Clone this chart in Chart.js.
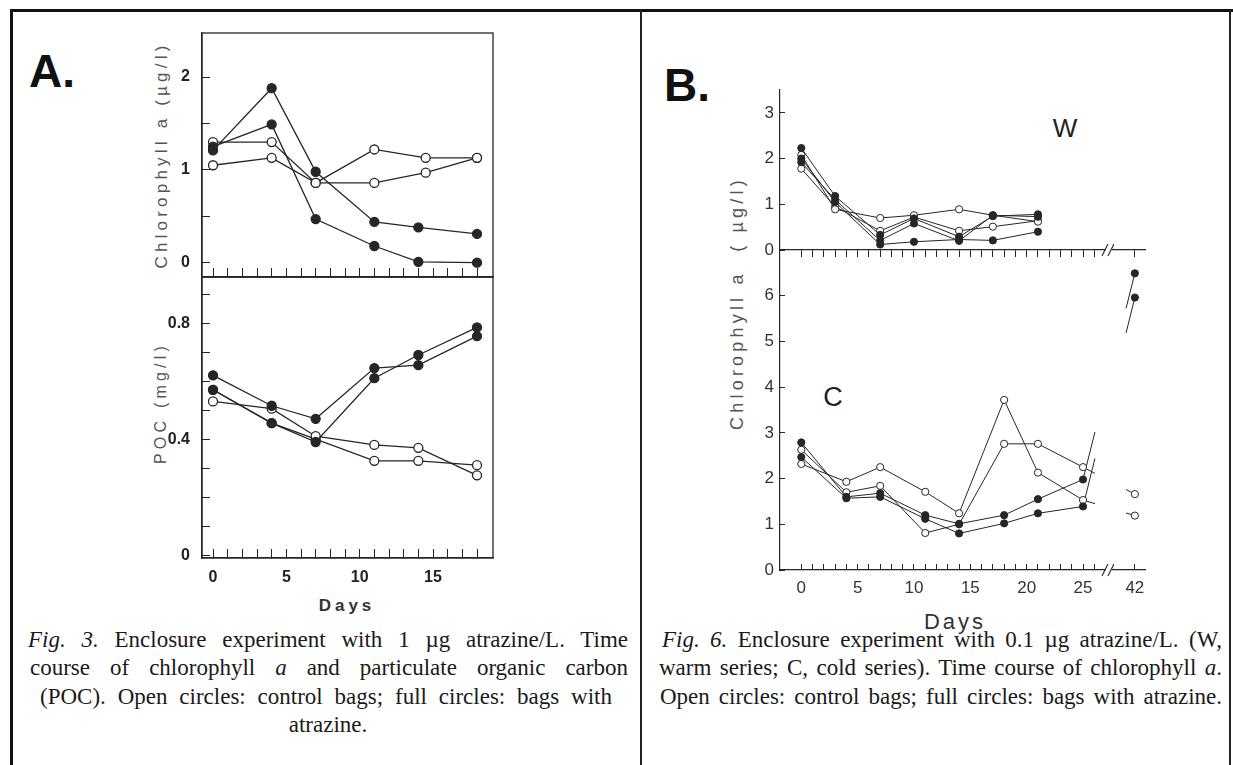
<!DOCTYPE html>
<html><head><meta charset="utf-8">
<script src="https://cdn.jsdelivr.net/npm/chart.js@4.4.1/dist/chart.umd.min.js"></script>
<style>
html,body{margin:0;padding:0;background:#fff;}
body{width:1233px;height:765px;position:relative;overflow:hidden;font-family:"Liberation Sans",Arial,sans-serif;}
canvas{position:absolute;}
.abs{position:absolute;white-space:nowrap;}
.rot{position:absolute;white-space:nowrap;transform:translate(-50%,-50%) rotate(-90deg);line-height:1;}
.ctr{position:absolute;white-space:nowrap;transform:translate(-50%,-50%);line-height:1;}
.cap{position:absolute;white-space:nowrap;font-family:"Liberation Serif","Times New Roman",serif;font-size:23px;color:#1a1a1a;line-height:28px;height:28px;}
.just{text-align:justify;text-align-last:justify;}
.cen{text-align:center;}
</style></head><body>

<div class="abs" style="left:10px;top:9px;width:1223px;height:3px;background:#111"></div>
<div class="abs" style="left:10px;top:9px;width:3px;height:756px;background:#111"></div>
<div class="abs" style="left:640px;top:9px;width:2px;height:756px;background:#222"></div>
<div class="abs" style="left:1229px;top:9px;width:2px;height:756px;background:#222"></div>

<div class="abs" style="left:29px;top:71px;transform:translateY(-50%);font:bold 46px 'Liberation Sans';line-height:1;color:#111">A.</div>
<div class="abs" style="left:664px;top:85px;transform:translateY(-50%);font:bold 46px 'Liberation Sans';line-height:1;color:#111">B.</div>

<div class="rot" style="left:161px;top:155px;font-size:17px;letter-spacing:4.2px;color:#555">Chlorophyll a (µg/l)</div>
<div class="rot" style="left:161px;top:403px;font-size:16px;letter-spacing:4.2px;color:#555">POC (mg/l)</div>
<div class="rot" style="left:737px;top:303px;font-size:18px;letter-spacing:4.2px;color:#555">Chlorophyll a&nbsp;&nbsp;( µg/l)</div>

<div class="ctr" style="left:347px;top:605px;font-weight:bold;font-size:17px;letter-spacing:4px;color:#333">Days</div>
<div class="ctr" style="left:955px;top:622px;font-size:22px;letter-spacing:3px;color:#333">Days</div>
<div class="ctr" style="left:1065px;top:128px;font-size:26px;color:#222">W</div>
<div class="ctr" style="left:833px;top:397px;font-size:27px;color:#222">C</div>

<div class="cap just" style="left:28px;top:626px;width:600px"><i>Fig. 3.</i> Enclosure experiment with 1 µg atrazine/L. Time</div>
<div class="cap just" style="left:30px;top:654px;width:598px">course of chlorophyll <i>a</i> and particulate organic carbon</div>
<div class="cap just" style="left:40px;top:683px;width:572px">(POC). Open circles: control bags; full circles: bags with</div>
<div class="cap cen" style="left:28px;top:711px;width:600px">atrazine.</div>

<div class="cap just" style="left:662px;top:626px;width:560px"><i>Fig. 6.</i> Enclosure experiment with 0.1 µg atrazine/L. (W,</div>
<div class="cap just" style="left:659px;top:654px;width:563px">warm series; C, cold series). Time course of chlorophyll <i>a</i>.</div>
<div class="cap just" style="left:660px;top:683px;width:562px">Open circles: control bags; full circles: bags with atrazine.</div>

<canvas id="aTop"></canvas>
<canvas id="aBot"></canvas>
<canvas id="bW"></canvas>
<canvas id="bC"></canvas>

<script>
// ================= DATA =================
// Panel A (Fig. 3) – days of sampling
const daysA = [0, 4, 7, 11, 14, 18];
const daysAChlOpen = [0, 4, 7, 11, 14.5, 18];
// Chlorophyll a (µg/l)
const chlA_full1 = [1.21, 1.88, 0.98, 0.44, 0.38, 0.31];
const chlA_full2 = [1.25, 1.49, 0.47, 0.18, 0.01, 0.00];
const chlA_open1 = [1.30, 1.30, 0.86, 1.22, 1.13, 1.13];
const chlA_open2 = [1.05, 1.13, 0.86, 0.86, 0.97, 1.13];
// POC (mg/l)
const pocA_full1 = [0.62, 0.515, 0.47, 0.645, 0.655, 0.755];
const pocA_full2 = [0.57, 0.455, 0.39, 0.61, 0.69, 0.785];
const pocA_open1 = [0.53, 0.505, 0.41, 0.38, 0.37, 0.275];
const pocA_open2 = [0.57, 0.455, 0.40, 0.325, 0.325, 0.31];
// Tick values
const dayTicksA = [0,1,2,3,4,5,6,7,8,9,10,11,12,13,14,15,16,17,18];
const dayLabelsA = [0, 5, 10, 15];
const chlTicksA = [0, 0.5, 1, 1.5, 2];
const chlLabelsA = [0, 1, 2];
const pocTicksA = [0, 0.1, 0.2, 0.3, 0.4, 0.5, 0.6, 0.7, 0.8, 0.9];
const pocLabelsA = [0, 0.4, 0.8];

// Panel B (Fig. 6) – warm series (W)
const daysW = [0, 3, 7, 10, 14, 17, 21];
const wOpen1 = [2.08, 0.89, 0.70, 0.76, 0.89, 0.76, 0.62];
const wOpen2 = [1.78, 0.95, 0.42, 0.72, 0.42, 0.51, 0.64];
const wFull1 = [2.23, 1.18, 0.33, 0.69, 0.29, 0.74, 0.78];
const wFull2 = [1.92, 1.10, 0.21, 0.58, 0.20, 0.76, 0.73];
const wFull3 = [2.00, 1.05, 0.12, 0.18, 0.23, 0.21, 0.40];
// cold series (C)
const daysC = [0, 4, 7, 11, 14, 18, 21, 25, 42];
const cOpen1 = [2.32, 1.93, 2.25, 1.71, 1.24, 3.72, 2.13, 1.53, 1.19];
const cOpen2 = [2.63, 1.70, 1.84, 0.81, 1.00, 2.76, 2.76, 2.25, 1.66];
const cFull1 = [2.79, 1.60, 1.68, 1.20, 1.01, 1.20, 1.55, 1.98, 6.49];
const cFull2 = [2.47, 1.57, 1.60, 1.12, 0.80, 1.02, 1.24, 1.39, 5.96];
// Tick values
const dayTicksB = [0,1,2,3,4,5,6,7,8,9,10,11,12,13,14,15,16,17,18,19,20,21,22,23,24,25,26,42];
const dayLabelsB = [0, 5, 10, 15, 20, 25, 42];
const wTicks = [0, 1, 2, 3];
const cTicks = [0, 1, 2, 3, 4, 5, 6];

// ================= BROKEN AXIS (B) =================
const BREAK_AFTER = 26;       // last day before the axis break
const POS_AFTER_BREAK = 29.6; // axis position where day 42 is drawn
const BREAK_MARK = 27.3;      // where the "//" is drawn
const bx = d => d > BREAK_AFTER ? POS_AFTER_BREAK : d;
const bxLabel = v => v === POS_AFTER_BREAK ? '42' : String(v);

// ================= STYLE / HELPERS =================
const ink = '#262626';
function place(id, box, area) {
  const c = document.getElementById(id);
  const w = box.r - box.l, h = box.b - box.t;
  c.width = w; c.height = h;
  c.style.left = box.l + 'px'; c.style.top = box.t + 'px';
  c.style.width = w + 'px'; c.style.height = h + 'px';
  return { c, padding: { left: 0, top: area.t - box.t, right: box.r - area.r, bottom: 0 },
           yw: area.l - box.l, xh: box.b - area.b };
}
function ds(days, vals, filled, st, map) {
  return {
    data: days.map((d, i) => ({ x: map ? map(d) : d, y: vals[i] })),
    borderColor: ink, borderWidth: st.lw, tension: 0, fill: false,
    pointRadius: st.r, pointBorderWidth: st.pbw, pointStyle: 'circle',
    pointBackgroundColor: filled ? ink : '#fff', pointBorderColor: ink,
    segment: { borderColor: ctx => (ctx.p1.parsed.x === POS_AFTER_BREAK ? 'rgba(0,0,0,0)' : undefined) }
  };
}
function axis(o) {
  return {
    type: 'linear', position: o.pos, min: o.min, max: o.max,
    afterFit: s => {
      if (o.pos === 'left') s.width = o.size; else s.height = o.size;
      s.paddingLeft = 0; s.paddingRight = 0; s.paddingTop = 0; s.paddingBottom = 0;
    },
    afterBuildTicks: s => { s.ticks = o.ticks.map(v => ({ value: v })); },
    grid: { display: true, drawOnChartArea: false, drawTicks: true, tickLength: o.tl, color: ink, lineWidth: o.tw || 1 },
    border: { display: true, color: ink, width: o.bw || 1.3 },
    ticks: {
      display: !!o.labels, autoSkip: false, maxRotation: 0, minRotation: 0, padding: o.pad || 0,
      font: o.font, color: o.color || '#222',
      callback: v => (o.labels && o.labels.includes(v) ? (o.fmt ? o.fmt(v) : String(v)) : '')
    }
  };
}
const frame = { id: 'frame', afterDraw(chart) {
  const { ctx, chartArea: a } = chart;
  ctx.save(); ctx.strokeStyle = ink; ctx.lineWidth = 1.3;
  ctx.strokeRect(a.left, a.top, a.right - a.left, a.bottom - a.top); ctx.restore();
} };
const breakMarks = { id: 'breakMarks', afterDraw(chart) {
  const { ctx, chartArea: a } = chart;
  const px = chart.scales.x.getPixelForValue(BREAK_MARK), py = a.bottom;
  ctx.save();
  ctx.fillStyle = '#fff'; ctx.fillRect(px - 3, py - 2, 6, 4);
  ctx.strokeStyle = ink; ctx.lineWidth = 1.1;
  ctx.beginPath();
  ctx.moveTo(px - 7, py + 6); ctx.lineTo(px - 1, py - 6);
  ctx.moveTo(px - 1, py + 6); ctx.lineTo(px + 5, py - 6);
  ctx.stroke(); ctx.restore();
} };
const stubs = { id: 'stubs', beforeDatasetsDraw(chart) {
  const { ctx } = chart;
  ctx.save(); ctx.strokeStyle = ink; ctx.lineWidth = 1;
  chart.data.datasets.forEach((d, i) => {
    const n = d.data.length;
    if (d.data[n - 1].x !== POS_AFTER_BREAK) return;
    const pts = chart.getDatasetMeta(i).data, p = pts[n - 2], q = pts[n - 1];
    const dx = q.x - p.x, dy = q.y - p.y;
    ctx.beginPath();
    ctx.moveTo(p.x, p.y); ctx.lineTo(p.x + dx * 0.23, p.y + dy * 0.23);
    ctx.moveTo(q.x - dx * 0.17, q.y - dy * 0.17); ctx.lineTo(q.x, q.y);
    ctx.stroke();
  });
  ctx.restore();
} };
function base(L, scales) {
  return { responsive: false, maintainAspectRatio: false, animation: false, events: [],
    layout: { padding: L.padding, autoPadding: false },
    plugins: { legend: { display: false }, tooltip: { enabled: false } }, scales };
}

const fontA = { family: "'Liberation Sans', Arial, sans-serif", size: 16, weight: 'bold' };
const fontB = { family: "'Liberation Sans', Arial, sans-serif", size: 17 };
const stA = { lw: 1.3, r: 4.5, pbw: 1.3 };
const stB = { lw: 1, r: 3.6, pbw: 1 };

// ---------- A top: chlorophyll ----------
{
  const L = place('aTop', { l: 140, t: 25, r: 500, b: 287 }, { l: 202, t: 33, r: 493, b: 277 });
  new Chart(L.c, { type: 'line', data: { datasets: [
      ds(daysA, chlA_full1, true, stA), ds(daysA, chlA_full2, true, stA),
      ds(daysAChlOpen, chlA_open1, false, stA), ds(daysAChlOpen, chlA_open2, false, stA)] },
    options: base(L, {
      x: axis({ pos: 'bottom', min: -0.75, max: 19.09, ticks: dayTicksA, tl: -9, size: L.xh }),
      y: axis({ pos: 'left', min: -0.154, max: 2.475, ticks: chlTicksA, labels: chlLabelsA, tl: -8, pad: 20, size: L.yw, font: fontA })
    }), plugins: [frame] });
}
// ---------- A bottom: POC ----------
{
  const L = place('aBot', { l: 140, t: 270, r: 500, b: 600 }, { l: 202, t: 277, r: 493, b: 558 });
  new Chart(L.c, { type: 'line', data: { datasets: [
      ds(daysA, pocA_full1, true, stA), ds(daysA, pocA_full2, true, stA),
      ds(daysA, pocA_open1, false, stA), ds(daysA, pocA_open2, false, stA)] },
    options: base(L, {
      x: axis({ pos: 'bottom', min: -0.75, max: 19.09, ticks: dayTicksA, labels: dayLabelsA, tl: -9, pad: 19, size: L.xh, font: fontA }),
      y: axis({ pos: 'left', min: -0.01, max: 0.959, ticks: pocTicksA, labels: pocLabelsA, tl: -8, pad: 20, size: L.yw, font: fontA })
    }), plugins: [frame] });
}
// ---------- B top: warm series ----------
{
  const L = place('bW', { l: 720, t: 80, r: 1160, b: 262 }, { l: 780, t: 90, r: 1145, b: 250 });
  new Chart(L.c, { type: 'line', data: { datasets: [
      ds(daysW, wFull1, true, stB, bx), ds(daysW, wFull2, true, stB, bx), ds(daysW, wFull3, true, stB, bx),
      ds(daysW, wOpen1, false, stB, bx), ds(daysW, wOpen2, false, stB, bx)] },
    options: base(L, {
      x: axis({ pos: 'bottom', min: -1.89, max: 30.5, ticks: dayTicksB.map(bx), tl: 7, size: L.xh, bw: 1.2 }),
      y: axis({ pos: 'left', min: 0, max: 3.5, ticks: wTicks, labels: wTicks, tl: -5, pad: 11, size: L.yw, font: fontB, color: '#333', bw: 1.2 })
    }), plugins: [breakMarks] });
}
// ---------- B bottom: cold series ----------
{
  const L = place('bC', { l: 720, t: 240, r: 1160, b: 610 }, { l: 780, t: 250, r: 1145, b: 570 });
  new Chart(L.c, { type: 'line', data: { datasets: [
      ds(daysC, cFull1, true, stB, bx), ds(daysC, cFull2, true, stB, bx),
      ds(daysC, cOpen1, false, stB, bx), ds(daysC, cOpen2, false, stB, bx)] },
    options: base(L, {
      x: axis({ pos: 'bottom', min: -1.89, max: 30.5, ticks: dayTicksB.map(bx), labels: dayLabelsB.map(bx), fmt: bxLabel, tl: -6, pad: 14, size: L.xh, font: fontB, color: '#333', bw: 1.2 }),
      y: axis({ pos: 'left', min: 0, max: 7, ticks: cTicks, labels: cTicks, tl: -5, pad: 11, size: L.yw, font: fontB, color: '#333', bw: 1.2 })
    }), plugins: [breakMarks, stubs] });
}

// ---- fit caption lines to their widths ----
document.querySelectorAll('.cap').forEach(el => {
  const target = el.clientWidth;
  const inner = document.createElement('span');
  while (el.firstChild) inner.appendChild(el.firstChild);
  el.appendChild(inner);
  el.style.textAlign = 'left'; el.style.textAlignLast = 'auto';
  let fs = 23; el.style.fontSize = fs + 'px';
  while (inner.getBoundingClientRect().width > target - 6 && fs > 14) { fs -= 0.25; el.style.fontSize = fs + 'px'; }
  el.style.textAlign = ''; el.style.textAlignLast = '';
});
</script>
</body></html>
